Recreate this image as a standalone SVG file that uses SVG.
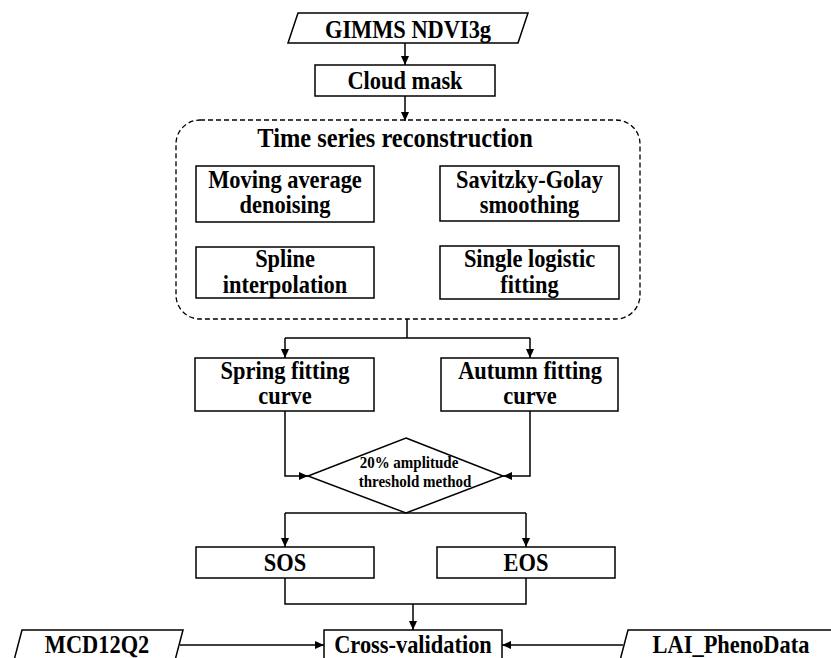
<svg xmlns="http://www.w3.org/2000/svg" width="831" height="658" viewBox="0 0 831 658">
<defs>
<marker id="ah" markerWidth="9" markerHeight="8" refX="9" refY="4" orient="auto" markerUnits="userSpaceOnUse">
<path d="M0,0 L9,4 L0,8 Z" fill="#000"/>
</marker>
<style>
.box{fill:#fff;stroke:#000;stroke-width:1.5}
.t{font-weight:bold;font-size:22.4px;text-anchor:middle;fill:#000}
.s{font-weight:bold;font-size:15px;text-anchor:middle;fill:#000}
.c{fill:none;stroke:#000;stroke-width:1.5}
.a{fill:none;stroke:#000;stroke-width:1.5;marker-end:url(#ah)}
</style>
</defs>
<rect width="831" height="658" fill="#fff"/>
<g id="connectors">
<path class="a" d="M405,43 V65"/>
<path class="a" d="M405,96 V121"/>
<path class="c" d="M407,319 V338 M285,338 H530"/>
<path class="a" d="M285,338 V358"/>
<path class="a" d="M530,338 V358"/>
<path class="a" d="M285,411 V476 H308"/>
<path class="a" d="M530,411 V476 H503"/>
<path class="c" d="M285,513 H526"/>
<path class="a" d="M285,513 V547"/>
<path class="a" d="M526,513 V547"/>
<path class="c" d="M285,578 V604 H526 V578"/>
<path class="a" d="M413,604 V630"/>
<path class="a" d="M180,645 H324"/>
<path class="a" d="M623,645 H502"/>
</g>
<g font-family="Liberation Serif, Times New Roman, serif">
<g id="gimms">
<polygon class="box" points="298,13 528,13 518,43 288,43"/>
<text class="t" transform="translate(408 38) scale(1 1.13)">GIMMS NDVI3g</text>
</g>
<g id="cloud">
<rect class="box" x="315" y="65" width="180" height="31"/>
<text class="t" transform="translate(405 89) scale(1 1.13)">Cloud mask</text>
</g>
<g id="tsr">
<rect x="176" y="120" width="464" height="199" rx="24" ry="24" fill="none" stroke="#000" stroke-width="1.3" stroke-dasharray="5,3"/>
<text class="t" style="font-size:24.4px" transform="translate(395 147) scale(1 1.13)">Time series reconstruction</text>
</g>
<g id="moving">
<rect class="box" x="196" y="166" width="178" height="56"/>
<text class="t" transform="translate(285 188) scale(1 1.13)">Moving average</text>
<text class="t" transform="translate(285 213) scale(1 1.13)">denoising</text>
</g>
<g id="savitzky">
<rect class="box" x="440" y="166" width="179" height="55"/>
<text class="t" transform="translate(529.5 188) scale(1 1.13)">Savitzky-Golay</text>
<text class="t" transform="translate(529.5 213) scale(1 1.13)">smoothing</text>
</g>
<g id="spline">
<rect class="box" x="196" y="247" width="178" height="51"/>
<text class="t" transform="translate(285 267) scale(1 1.13)">Spline</text>
<text class="t" transform="translate(285 293) scale(1 1.13)">interpolation</text>
</g>
<g id="logistic">
<rect class="box" x="440" y="246" width="179" height="53"/>
<text class="t" transform="translate(529.5 267) scale(1 1.13)">Single logistic</text>
<text class="t" transform="translate(529.5 293) scale(1 1.13)">fitting</text>
</g>
<g id="spring">
<rect class="box" x="195" y="358" width="179" height="53"/>
<text class="t" transform="translate(285 379) scale(1 1.13)">Spring fitting</text>
<text class="t" transform="translate(285 404) scale(1 1.13)">curve</text>
</g>
<g id="autumn">
<rect class="box" x="441" y="358" width="177" height="53"/>
<text class="t" transform="translate(530 379) scale(1 1.13)">Autumn fitting</text>
<text class="t" transform="translate(530 404) scale(1 1.13)">curve</text>
</g>
<g id="threshold">
<polygon class="box" points="406,438 503,476 406,513 308,476"/>
<text class="s" transform="translate(409 468) scale(1 1.13)">20% amplitude</text>
<text class="s" transform="translate(415 487) scale(1 1.13)">threshold method</text>
</g>
<g id="sos">
<rect class="box" x="196" y="547" width="178" height="31"/>
<text class="t" transform="translate(285 571) scale(1 1.13)">SOS</text>
</g>
<g id="eos">
<rect class="box" x="437" y="547" width="178" height="31"/>
<text class="t" transform="translate(526 571) scale(1 1.13)">EOS</text>
</g>
<g id="cross">
<rect class="box" x="324" y="630" width="178" height="40"/>
<text class="t" transform="translate(413 653) scale(1 1.13)">Cross-validation</text>
</g>
<g id="mcd">
<polygon class="box" points="22,630 183,630 173,668 12,668"/>
<text class="t" transform="translate(97 653) scale(1 1.13)">MCD12Q2</text>
</g>
<g id="lai">
<polygon class="box" points="628,630 845,630 845,668 618,668"/>
<text class="t" transform="translate(731 653) scale(1 1.13)">LAI_PhenoData</text>
</g>
</g>
</svg>
